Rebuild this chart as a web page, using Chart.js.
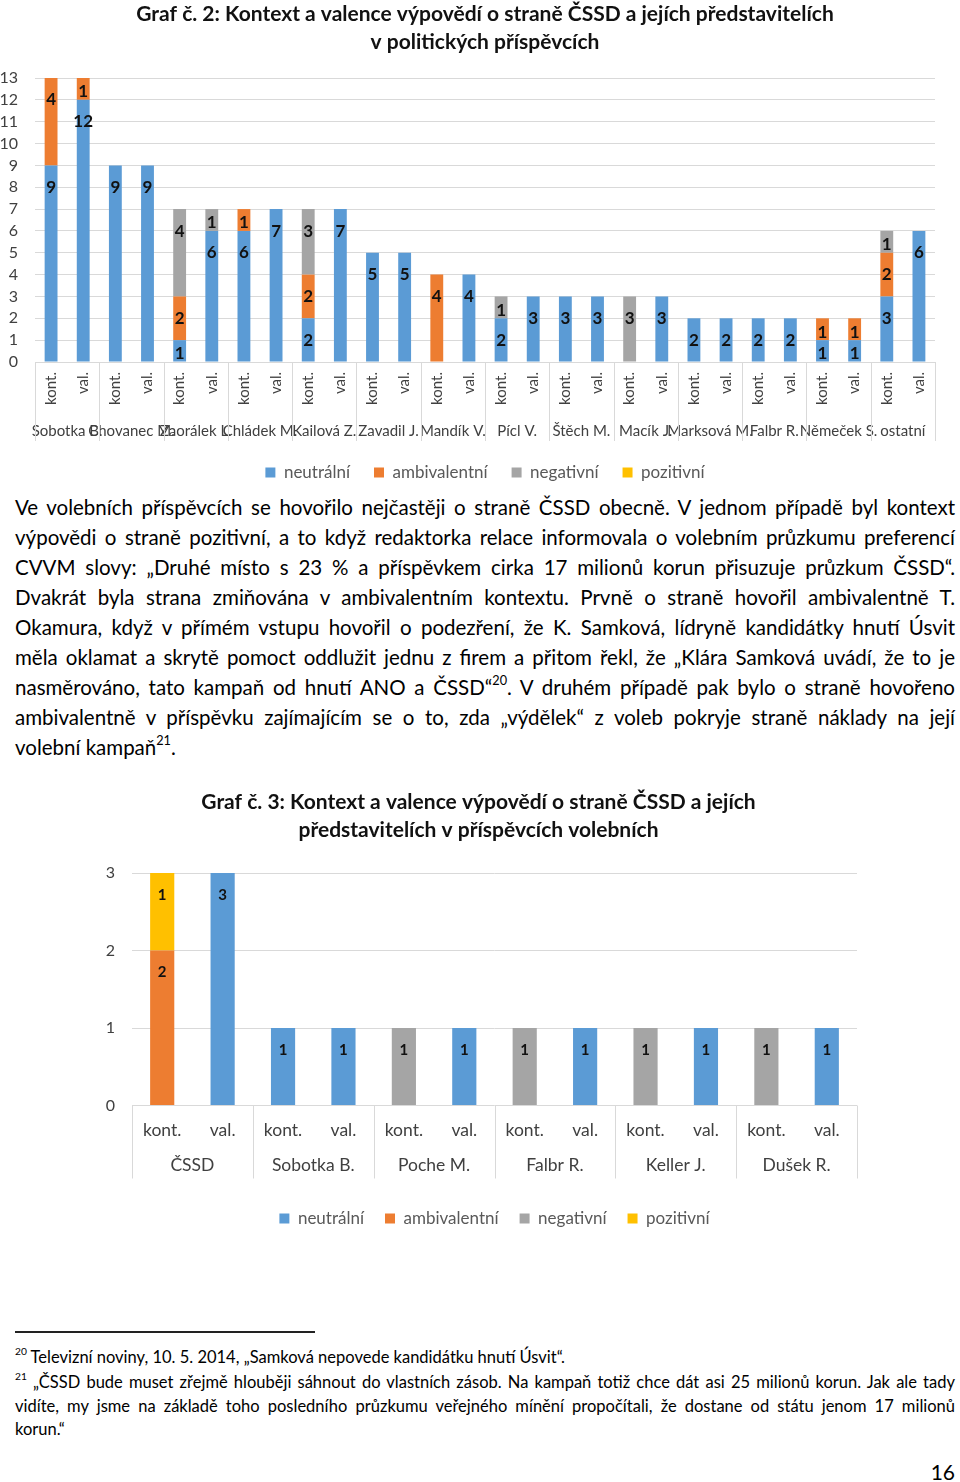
<!DOCTYPE html>
<html lang="cs">
<head>
<meta charset="utf-8">
<title>Graf č. 2 a 3</title>
<script src="https://cdn.jsdelivr.net/npm/chart.js@4.4.1/dist/chart.umd.min.js"></script>
<style>
  body { margin: 0; background: #fff; font-family: Lato, "Open Sans", sans-serif; color: #000; }
  #page { position: relative; width: 960px; height: 1482px; overflow: hidden; }
  .box { position: absolute; left: 0; width: 960px; }
  .para { position: absolute; left: 15px; width: 940px; font-size: 20.5px; line-height: 30px; top: 492px; }
  .para div, .fn div { text-align: justify; text-align-last: justify; }
  .para div.last, .fn div.last { text-align-last: left; }
  sup { font-size: 0.62em; line-height: 0; position: relative; top: -0.15em; }
  .rule { position: absolute; left: 15px; top: 1331px; width: 300px; height: 2px; background: #222; }
  .fn { position: absolute; left: 15px; width: 940px; font-size: 16.5px; line-height: 24px; }
  .pageno { position: absolute; right: 5px; top: 1459px; font-size: 21px; }
</style>
</head>
<body>
<div id="page">
  <div class="box" style="top:0;height:491px"><canvas id="graf2"></canvas></div>

  <div class="para">
    <div>Ve volebních příspěvcích se hovořilo nejčastěji o straně ČSSD obecně. V jednom případě byl kontext</div>
    <div>výpovědi o straně pozitivní, a to když redaktorka relace informovala o volebním průzkumu preferencí</div>
    <div>CVVM slovy: „Druhé místo s 23 % a příspěvkem cirka 17 milionů korun přisuzuje průzkum ČSSD“.</div>
    <div>Dvakrát byla strana zmiňována v ambivalentním kontextu. Prvně o straně hovořil ambivalentně T.</div>
    <div>Okamura, když v přímém vstupu hovořil o podezření, že K. Samková, lídryně kandidátky hnutí Úsvit</div>
    <div>měla oklamat a skrytě pomoct oddlužit jednu z firem a přitom řekl, že „Klára Samková uvádí, že to je</div>
    <div>nasměrováno, tato kampaň od hnutí ANO a ČSSD“<sup>20</sup>. V druhém případě pak bylo o straně hovořeno</div>
    <div>ambivalentně v příspěvku zajímajícím se o to, zda „výdělek“ z voleb pokryje straně náklady na její</div>
    <div class="last">volební kampaň<sup>21</sup>.</div>
  </div>

  <div class="box" style="top:785px;height:452px"><canvas id="graf3"></canvas></div>

  <div class="rule"></div>
  <div class="fn" style="top:1345px">
    <div class="last"><sup>20</sup> Televizní noviny, 10. 5. 2014, „Samková nepovede kandidátku hnutí Úsvit“.</div>
  </div>
  <div class="fn" style="top:1371px;line-height:23.5px">
    <div><sup>21</sup> „ČSSD bude muset zřejmě hlouběji sáhnout do vlastních zásob. Na kampaň totiž chce dát asi 25 milionů korun. Jak ale tady</div>
    <div>vidíte, my jsme na základě toho posledního průzkumu veřejného mínění propočítali, že dostane od státu jenom 17 milionů</div>
    <div class="last">korun.“</div>
  </div>
  <div class="pageno">16</div>
</div>

<script>
// Graf č. 2 - politické příspěvky
const groups2 = ['Sobotka B.', 'Chovanec M.', 'Zaorálek L.', 'Chládek M.', 'Kailová Z.', 'Zavadil J.', 'Mandík V.',
  'Pícl V.', 'Štěch M.', 'Macík J.', 'Marksová M.', 'Falbr R.', 'Němeček S.', 'ostatní'];
const kinds = ['kont.', 'val.'];
const neutral2 = [9, 12, 9, 9, 1, 6, 6, 7, 2, 7, 5, 5, 0, 4, 2, 3, 3, 3, 0, 3, 2, 2, 2, 2, 1, 1, 3, 6];
const ambivalent2 = [4, 1, 0, 0, 2, 0, 1, 0, 2, 0, 0, 0, 4, 0, 0, 0, 0, 0, 0, 0, 0, 0, 0, 0, 1, 1, 2, 0];
const negative2 = [0, 0, 0, 0, 4, 1, 0, 0, 3, 0, 0, 0, 0, 0, 1, 0, 0, 0, 3, 0, 0, 0, 0, 0, 0, 0, 1, 0];
const positive2 = [0, 0, 0, 0, 0, 0, 0, 0, 0, 0, 0, 0, 0, 0, 0, 0, 0, 0, 0, 0, 0, 0, 0, 0, 0, 0, 0, 0];
const ticks2 = [0, 1, 2, 3, 4, 5, 6, 7, 8, 9, 10, 11, 12, 13];

// Graf č. 3 - volební příspěvky
const groups3 = ['ČSSD', 'Sobotka B.', 'Poche M.', 'Falbr R.', 'Keller J.', 'Dušek R.'];
const neutral3 = [0, 3, 1, 1, 0, 1, 0, 1, 0, 1, 0, 1];
const ambivalent3 = [2, 0, 0, 0, 0, 0, 0, 0, 0, 0, 0, 0];
const negative3 = [0, 0, 0, 0, 1, 0, 1, 0, 1, 0, 1, 0];
const positive3 = [1, 0, 0, 0, 0, 0, 0, 0, 0, 0, 0, 0];
const ticks3 = [0, 1, 2, 3];

const seriesNames = ['neutrální', 'ambivalentní', 'negativní', 'pozitivní'];
const colors = ['#5B9BD5', '#ED7D31', '#A5A5A5', '#FFC000'];

Chart.defaults.font.family = "Lato, 'Open Sans', sans-serif";
Chart.defaults.color = '#404040';
Chart.defaults.animation = false;

// kont./val. pod každou skupinou
const barLabels = (groups) => groups.flatMap(() => kinds);

// čísla v segmentech sloupců
const valueLabels = {
  id: 'valueLabels',
  afterDatasetsDraw(chart, args, opts) {
    const ctx = chart.ctx;
    ctx.save();
    ctx.font = opts.font;
    ctx.fillStyle = '#111';
    ctx.textAlign = 'center';
    ctx.textBaseline = 'middle';
    chart.data.datasets.forEach((ds, i) => {
      chart.getDatasetMeta(i).data.forEach((bar, j) => {
        const v = ds.data[j];
        if (!v) return;
        const top = Math.min(bar.y, bar.base);
        const bottom = Math.max(bar.y, bar.base);
        const y = Math.min(top + opts.offset, bottom - opts.minGap);
        ctx.fillText(String(v), bar.x, y);
      });
    });
    ctx.restore();
  }
};

// svislé oddělovače skupin v oblasti popisků osy x
const groupLines = {
  id: 'groupLines',
  afterDraw(chart, args, opts) {
    const x2 = chart.scales.x2;
    const n = x2.getLabels().length;
    const slot = (x2.right - x2.left) / n;
    const ctx = chart.ctx;
    ctx.save();
    ctx.strokeStyle = '#D9D9D9';
    ctx.lineWidth = 1;
    for (let i = 0; i <= n; i++) {
      const x = Math.round(x2.left + i * slot) + 0.5;
      ctx.beginPath();
      ctx.moveTo(x, chart.chartArea.bottom);
      ctx.lineTo(x, chart.chartArea.bottom + opts.length);
      ctx.stroke();
    }
    ctx.restore();
  }
};

function makeDatasets(series) {
  return series.map((data, i) => ({
    label: seriesNames[i],
    data: data,
    backgroundColor: colors[i],
    barPercentage: 0.8,
    categoryPercentage: 0.5
  }));
}

function makeChart(id, cfg) {
  return new Chart(document.getElementById(id), {
    type: 'bar',
    data: {
      labels: barLabels(cfg.groups),
      datasets: makeDatasets(cfg.series)
    },
    options: {
      responsive: true,
      maintainAspectRatio: false,
      layout: { padding: cfg.padding },
      scales: {
        x: {
          stacked: true,
          grid: { display: false, drawTicks: false },
          border: { display: false },
          ticks: {
            autoSkip: false,
            minRotation: cfg.kindRotation,
            maxRotation: cfg.kindRotation,
            padding: cfg.kindPadding,
            font: { size: cfg.kindSize },
            color: '#404040'
          },
          afterFit: s => { s.height = cfg.kindHeight; }
        },
        x2: {
          type: 'category',
          labels: cfg.groups,
          offset: true,
          position: 'bottom',
          weight: 1,
          grid: { display: false, drawTicks: false },
          border: { display: false },
          ticks: {
            autoSkip: false,
            maxRotation: 0,
            minRotation: 0,
            padding: cfg.groupPadding,
            font: { size: cfg.groupSize },
            color: '#404040'
          },
          afterFit: s => { s.height = cfg.groupHeight; }
        },
        y: {
          stacked: true,
          min: 0,
          max: cfg.ticks[cfg.ticks.length - 1],
          grid: { color: '#D9D9D9', drawTicks: false },
          border: { display: false },
          afterBuildTicks: s => { s.ticks = cfg.ticks.map(v => ({ value: v })); },
          ticks: {
            autoSkip: false,
            padding: cfg.yPadding,
            font: { size: 16 },
            color: '#404040'
          },
          afterFit: s => { s.width = cfg.yWidth; }
        }
      },
      plugins: {
        title: {
          display: true,
          text: cfg.title,
          color: '#111',
          fullSize: cfg.titleFull,
          font: { size: 21, weight: 'bold', lineHeight: 28 / 21 },
          padding: cfg.titlePadding
        },
        legend: {
          position: 'bottom',
          fullSize: false,
          labels: {
            boxWidth: 10,
            boxHeight: 10,
            padding: cfg.legendPadding,
            color: '#595959',
            font: { size: 17 }
          }
        },
        tooltip: { enabled: false },
        valueLabels: cfg.valueLabels,
        groupLines: { length: cfg.lineLength }
      }
    },
    plugins: [valueLabels, groupLines]
  });
}

makeChart('graf2', {
  groups: groups2,
  series: [neutral2, ambivalent2, negative2, positive2],
  ticks: ticks2,
  title: ['Graf č. 2: Kontext a valence výpovědí o straně ČSSD a jejích představitelích', 'v politických příspěvcích'],
  titleFull: false,
  titlePadding: { top: 0, bottom: 22 },
  padding: { left: 0, right: 25, top: 0, bottom: 0 },
  kindRotation: 90,
  kindPadding: 10,
  kindSize: 15,
  kindHeight: 48,
  groupPadding: 12,
  groupSize: 15,
  groupHeight: 30,
  yPadding: 17,
  yWidth: 35,
  legendPadding: 24,
  lineLength: 79,
  valueLabels: { font: 'bold 17px Lato', offset: 22, minGap: 8 }
});

makeChart('graf3', {
  groups: groups3,
  series: [neutral3, ambivalent3, negative3, positive3],
  ticks: ticks3,
  title: ['Graf č. 3: Kontext a valence výpovědí o straně ČSSD a jejích', 'představitelích v příspěvcích volebních'],
  titleFull: true,
  titlePadding: { top: 3, bottom: 29 },
  padding: { left: 100, right: 103, top: 0, bottom: 0 },
  kindRotation: 0,
  kindPadding: 14.5,
  kindSize: 17.5,
  kindHeight: 36,
  groupPadding: 13.5,
  groupSize: 17.5,
  groupHeight: 47.5,
  yPadding: 17,
  yWidth: 32,
  legendPadding: 21,
  lineLength: 73,
  valueLabels: { font: 'bold 15px Lato', offset: 22, minGap: 8 }
});
</script>
</body>
</html>
